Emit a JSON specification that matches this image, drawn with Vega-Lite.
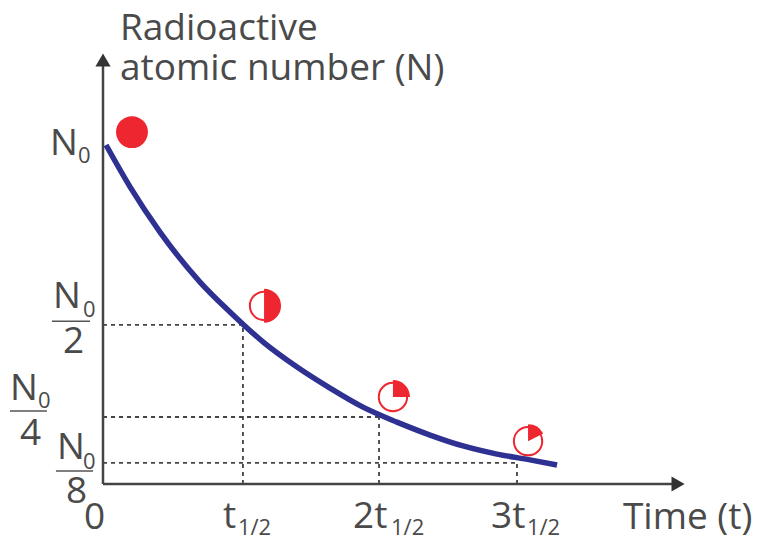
{"$schema":"https://vega.github.io/schema/vega-lite/v6.json","width":759,"height":537,"autosize":{"type":"none"},"padding":0,"background":"white","config":{"view":{"stroke":null}},
"encoding":{"x":{"field":"t","type":"quantitative","scale":{"domain":[-0.7464,4.7536],"nice":false,"zero":false},"axis":null},"y":{"field":"N","type":"quantitative","scale":{"domain":[-15.588,142.353],"nice":false,"zero":false},"axis":null}},
"layer":[
{"data":{"values":[{"t":0,"t2":1.014,"N":46.8},{"t":0,"t2":2.0,"N":19.7},{"t":0,"t2":3.0,"N":6.2}]},"mark":{"type":"rule","color":"#444444","strokeWidth":1.8,"strokeDash":[4,4]},"encoding":{"x2":{"field":"t2"}}},
{"data":{"values":[{"t":1.014,"N":0,"N2":46.8},{"t":2.0,"N":0,"N2":19.7},{"t":3.0,"N":0,"N2":6.2}]},"mark":{"type":"rule","color":"#444444","strokeWidth":1.8,"strokeDash":[4,4]},"encoding":{"y2":{"field":"N2"}}},
{"data":{"values":[{"t":0,"N":0,"N2":124.7}]},"mark":{"type":"rule","color":"#444444","strokeWidth":2.5},"encoding":{"y2":{"field":"N2"}}},
{"data":{"values":[{"t":0,"t2":4.145,"N":0}]},"mark":{"type":"rule","color":"#444444","strokeWidth":2.5},"encoding":{"x2":{"field":"t2"}}},
{"data":{"values":[{"t":0,"N":124.7}]},"mark":{"type":"point","shape":"triangle-up","filled":true,"color":"#333333","size":230,"opacity":1}},
{"data":{"values":[{"t":4.167,"N":0}]},"mark":{"type":"point","shape":"triangle-right","filled":true,"color":"#333333","size":230,"opacity":1}},
{"data":{"values":[{"t":0.21,"N":103.5}]},"mark":{"type":"point","shape":"circle","filled":true,"color":"#ed2630","size":1018,"opacity":1}},
{"data":{"values":[{"t":1.167,"N":52.4},{"t":2.101,"N":25.6},{"t":3.08,"N":12.6}]},"mark":{"type":"point","shape":"circle","fill":"white","stroke":"#ed2630","strokeWidth":2,"size":804,"opacity":1,"fillOpacity":1}},
{"data":{"values":[{"t":1.167,"N":52.4,"a0":0,"a1":3.1416},{"t":2.101,"N":25.6,"a0":0,"a1":1.5708},{"t":3.08,"N":12.6,"a0":0,"a1":1.1}]},"mark":{"type":"arc","innerRadius":0,"outerRadius":17,"color":"#ed2630"},"encoding":{"theta":{"field":"a0","type":"quantitative","scale":null},"theta2":{"field":"a1"}}},
{"data":{"values":[{"t":0.022,"N":99.7},{"t":0.196,"N":87.4},{"t":0.413,"N":74.1},{"t":0.703,"N":59.4},{"t":0.92,"N":50.6},{"t":1.159,"N":41.8},{"t":1.406,"N":34.4},{"t":1.645,"N":28.2},{"t":1.884,"N":22.6},{"t":2.13,"N":18.2},{"t":2.37,"N":14.4},{"t":2.609,"N":11.2},{"t":2.855,"N":8.8},{"t":3.094,"N":7.1},{"t":3.29,"N":5.6}]},"mark":{"type":"line","color":"#2e3192","strokeWidth":5.5,"interpolate":"monotone"}},
{"data":{"values":[{"t":-0.37,"t2":-0.094,"N":47.9},{"t":-0.674,"t2":-0.406,"N":21.5},{"t":-0.341,"t2":-0.072,"N":3.8}]},"mark":{"type":"rule","color":"#555555","strokeWidth":1.5},"encoding":{"x2":{"field":"t2"}}},
{"data":{"values":[{"t":0.123,"N":130.6,"label":"Radioactive"},{"t":0.123,"N":118.8,"label":"atomic number (N)"},{"t":3.768,"N":-13.24,"label":"Time (t)"},{"t":-0.29,"N":38.5,"label":"2"},{"t":-0.601,"N":11.5,"label":"4"},{"t":-0.268,"N":-5.6,"label":"8"},{"t":-0.138,"N":-13.2,"label":"0"},{"t":0.87,"N":-13.0,"label":"t"},{"t":1.812,"N":-13.0,"label":"2t"},{"t":2.812,"N":-13.0,"label":"3t"}]},"mark":{"type":"text","font":"Open Sans","fontSize":37,"align":"left","baseline":"alphabetic","color":"#4a4a4a"},"encoding":{"text":{"field":"label"}}},
{"data":{"values":[{"t":-0.384,"N":96.8,"label":"N"},{"t":-0.362,"N":51.8,"label":"N"},{"t":-0.674,"N":24.7,"label":"N"},{"t":-0.333,"N":7.35,"label":"N"}]},"mark":{"type":"text","font":"Open Sans","fontSize":37,"align":"left","baseline":"alphabetic","color":"#4a4a4a"},"encoding":{"text":{"field":"label"}}},
{"data":{"values":[{"t":-0.181,"N":94.4,"label":"0"},{"t":-0.145,"N":49.1,"label":"0"},{"t":-0.471,"N":22.4,"label":"0"},{"t":-0.145,"N":4.4,"label":"0"},{"t":0.978,"N":-15,"label":"1/2"},{"t":2.087,"N":-15,"label":"1/2"},{"t":3.072,"N":-15,"label":"1/2"}]},"mark":{"type":"text","font":"Open Sans","fontSize":22,"align":"left","baseline":"alphabetic","color":"#4a4a4a"},"encoding":{"text":{"field":"label"}}}
]}
